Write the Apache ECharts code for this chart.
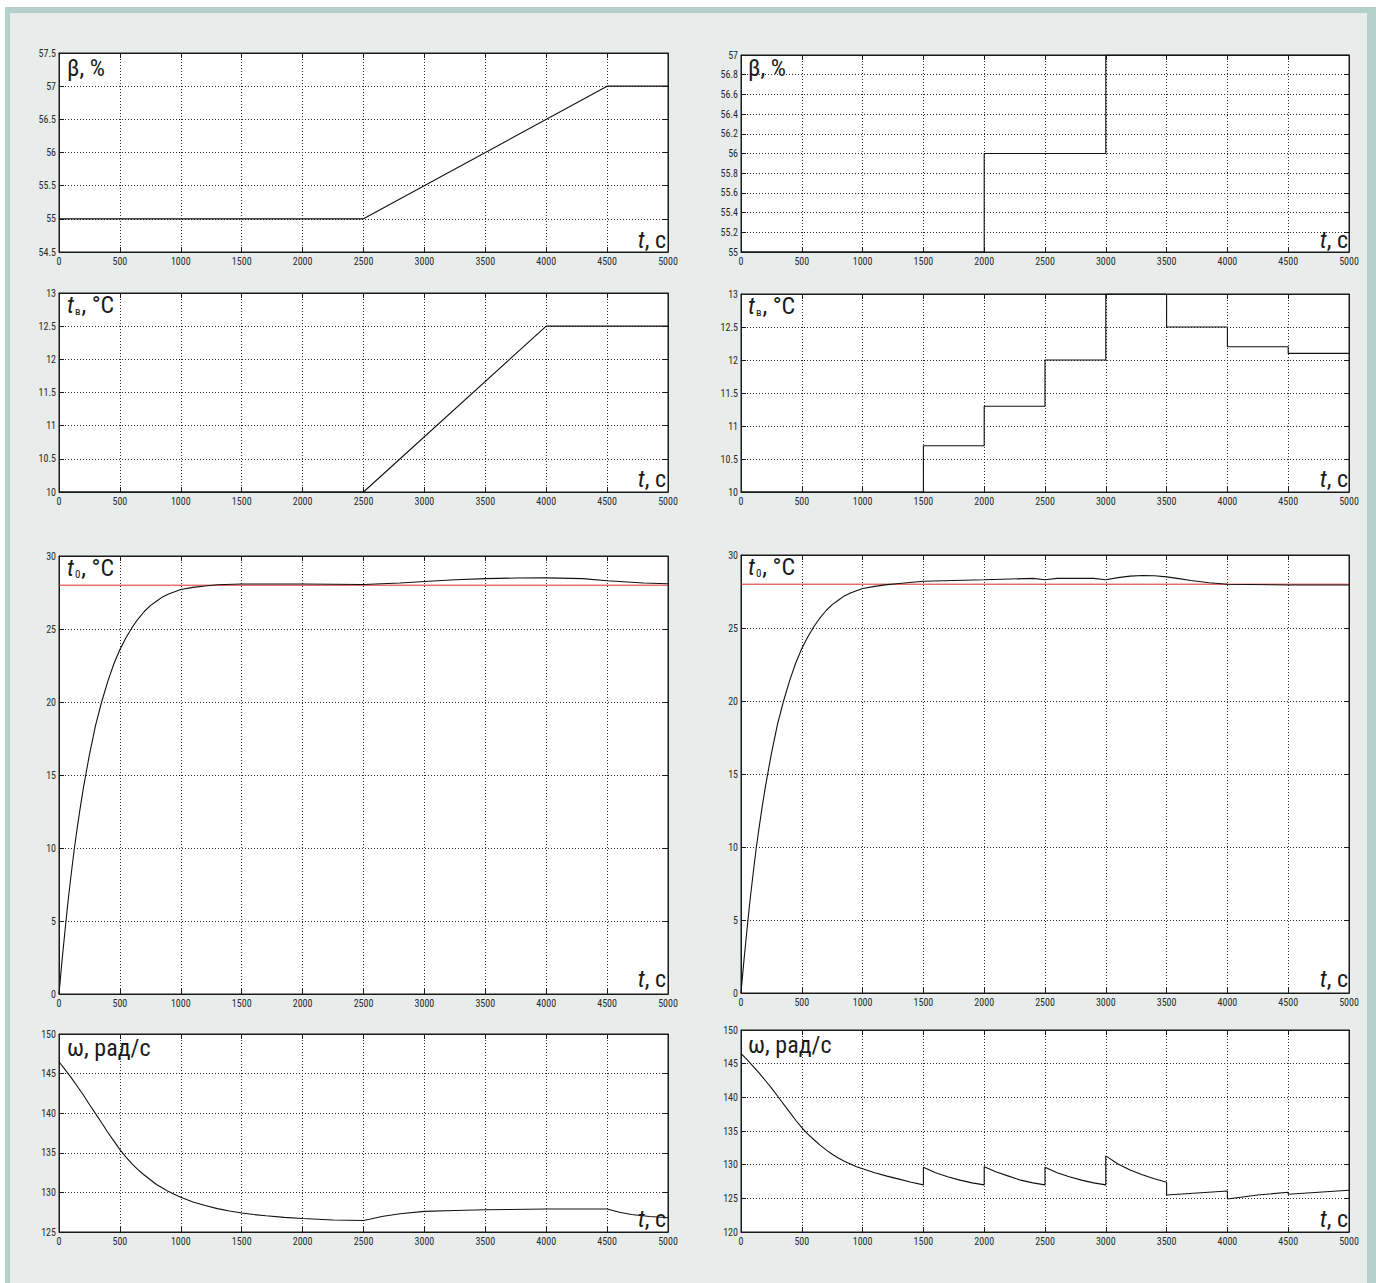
<!DOCTYPE html>
<html>
<head>
<meta charset="utf-8">
<script src="https://cdn.jsdelivr.net/npm/echarts@6/dist/echarts.min.js"></script>
<style>
html,body{margin:0;padding:0;background:#fff;width:1376px;height:1283px;overflow:hidden;}
#frame{position:absolute;left:5px;top:7px;width:1371px;height:1276px;background:#e8edeb;box-sizing:border-box;border-left:5px solid #b3d1ca;border-top:6px solid #b3d1ca;border-right:9px solid #b3d1ca;}
#chart{position:absolute;left:0;top:0;width:1376px;height:1283px;}
</style>
</head>
<body>
<div id="frame"></div>
<div id="chart"></div>
<script>
// ---- data (time in s) ----
const xTicks = {min: 0, max: 5000, step: 500};

const betaLeft  = [[0,55],[2500,55],[4500,57],[5000,57]];
const betaRight = [[0,55],[2000,55],[2000,56],[3000,56],[3000,57],[5000,57]];

const tbLeft  = [[0,10],[2500,10],[4000,12.5],[5000,12.5]];
const tbRight = [[0,10],[1500,10],[1500,10.7],[2000,10.7],[2000,11.3],[2500,11.3],[2500,12],[3000,12],
                 [3000,13],[3500,13],[3500,12.5],[4000,12.5],[4000,12.2],[4500,12.2],[4500,12.1],[5000,12.1]];

const t0Left = [[0,0],[25,2.3],[50,4.4],[75,6.4],[100,8.2],[125,9.9],[150,11.4],[175,12.8],[200,14.1],
                [250,16.4],[300,18.4],[350,20.0],[400,21.4],[450,22.6],[500,23.6],[550,24.4],[600,25.1],
                [650,25.7],[700,26.2],[750,26.6],[800,26.9],[850,27.2],[900,27.4],[950,27.55],[1000,27.7],
                [1100,27.85],[1200,27.95],[1300,28.03],[1500,28.08],[2000,28.08],[2500,28.05],[2800,28.15],
                [3000,28.25],[3250,28.37],[3500,28.45],[3750,28.49],[4000,28.5],[4300,28.45],[4500,28.3],
                [4800,28.15],[5000,28.1]];
const t0Right = [[0,0],[25,2.3],[50,4.4],[75,6.4],[100,8.2],[125,9.9],[150,11.4],[175,12.8],[200,14.1],
                 [250,16.4],[300,18.4],[350,20.0],[400,21.4],[450,22.6],[500,23.6],[550,24.4],[600,25.1],
                 [650,25.7],[700,26.2],[750,26.6],[800,26.9],[850,27.2],[900,27.4],[950,27.55],[1000,27.7],
                 [1100,27.85],[1200,27.97],[1300,28.05],[1500,28.2],[2000,28.3],[2400,28.4],[2500,28.3],
                 [2600,28.4],[2900,28.4],[3000,28.3],[3100,28.45],[3200,28.55],[3300,28.6],[3400,28.58],
                 [3500,28.5],[3600,28.38],[3700,28.25],[3850,28.1],[4000,28.0],[4500,27.95],[5000,27.95]];
const t0Setpoint = 28;

const omegaLeft = [[0,146.5],[50,145.5],[100,144.5],[150,143.4],[200,142.3],[250,141.1],[300,139.95],
                   [350,138.8],[400,137.6],[450,136.5],[500,135.4],[550,134.45],[600,133.6],[650,132.85],
                   [700,132.2],[750,131.6],[800,131.0],[850,130.55],[900,130.1],[950,129.75],[1000,129.4],
                   [1100,128.8],[1200,128.35],[1300,127.95],[1400,127.65],[1500,127.4],[1600,127.2],
                   [1700,127.05],[1850,126.85],[2000,126.7],[2250,126.52],[2500,126.45],[2550,126.6],
                   [2650,126.95],[2800,127.3],[3000,127.6],[3250,127.72],[3500,127.8],[4000,127.9],
                   [4500,127.9],[4600,127.5],[4700,127.2],[4850,126.95],[5000,126.8]];
const omegaRight = [[0,146.5],[50,145.6],[100,144.6],[150,143.6],[200,142.5],[250,141.4],[300,140.2],
                    [350,139.0],[400,137.8],[450,136.6],[500,135.5],[550,134.55],[600,133.7],[650,132.9],
                    [700,132.2],[750,131.55],[800,131.0],[850,130.5],[900,130.1],[950,129.7],[1000,129.4],
                    [1100,128.8],[1200,128.3],[1300,127.85],[1400,127.4],[1500,127.0],
                    [1500,129.6],[1600,128.8],[1700,128.2],[1800,127.7],[1900,127.3],[2000,127.0],
                    [2000,129.7],[2100,128.9],[2200,128.3],[2300,127.7],[2400,127.3],[2500,127.0],
                    [2500,129.6],[2600,128.8],[2700,128.2],[2800,127.7],[2900,127.3],[3000,127.0],
                    [3000,131.3],[3100,130.1],[3200,129.2],[3300,128.5],[3400,127.9],[3500,127.4],
                    [3500,125.5],[3750,125.8],[4000,126.1],
                    [4000,124.9],[4250,125.5],[4500,125.9],
                    [4500,125.6],[4750,125.9],[5000,126.2]];

// y-axis ranges per panel: [min, max, interval]
const yRanges = [[54.5,57.5,0.5],[55,57,0.2],[10,13,0.5],[10,13,0.5],[0,30,5],[0,30,5],[125,150,5],[120,150,5]];
const panelNames = ['beta','beta','tb','tb','t0','t0','omega','omega'];
const panelData = [betaLeft, betaRight, tbLeft, tbRight, t0Left, t0Right, omegaLeft, omegaRight];

// ---- layout ----
const grids = [
  {left:59, top:53, width:609, height:199},
  {left:741, top:55, width:608, height:197},
  {left:59, top:293, width:609, height:199},
  {left:741, top:294, width:608, height:198},
  {left:59, top:556, width:609, height:438},
  {left:741, top:555, width:608, height:438},
  {left:59, top:1034, width:609, height:198},
  {left:741, top:1030, width:608, height:202}
];
const FONT = "'Liberation Sans Narrow','Roboto Condensed','Liberation Sans',sans-serif";
const TXT = '#2a2a2a';
const plain = v => String(Math.round(v * 1000) / 1000);

const option = {backgroundColor:'transparent', animation:false, grid:[], xAxis:[], yAxis:[], series:[], title:[]};

grids.forEach((g, i) => {
  option.grid.push(Object.assign({show:true, backgroundColor:'#fff', borderColor:'#1a1a1a', borderWidth:1, containLabel:false}, g));
  const split = {show:true, lineStyle:{color:'#2a2a2a', type:[1,2], width:1}};
  const tick = {show:true, inside:true, length:5, lineStyle:{color:'#1a1a1a'}};
  option.xAxis.push({type:'value', gridIndex:i, min:xTicks.min, max:xTicks.max, interval:xTicks.step,
    axisLine:{show:true, onZero:false, lineStyle:{color:'#1a1a1a'}}, axisTick:tick,
    axisLabel:{fontSize:10, color:TXT, fontFamily:FONT, margin:4, formatter:plain}, splitLine:split});
  option.xAxis.push({type:'value', gridIndex:i, position:'top', min:xTicks.min, max:xTicks.max, interval:xTicks.step,
    axisLine:{show:true, onZero:false, lineStyle:{color:'#1a1a1a'}}, axisTick:tick, axisLabel:{show:false}, splitLine:{show:false}});
  const r = yRanges[i];
  option.yAxis.push({type:'value', gridIndex:i, min:r[0], max:r[1], interval:r[2],
    axisLine:{show:true, onZero:false, lineStyle:{color:'#1a1a1a'}}, axisTick:tick,
    axisLabel:{fontSize:10, color:TXT, fontFamily:FONT, margin:3, formatter:plain}, splitLine:split});
  option.yAxis.push({type:'value', gridIndex:i, position:'right', min:r[0], max:r[1], interval:r[2],
    axisLine:{show:true, onZero:false, lineStyle:{color:'#1a1a1a'}}, axisTick:tick, axisLabel:{show:false}, splitLine:{show:false}});

  if (panelNames[i] === 't0') {
    option.series.push({type:'line', xAxisIndex:2*i, yAxisIndex:2*i, showSymbol:false, silent:true,
      data:[[xTicks.min, t0Setpoint],[xTicks.max, t0Setpoint]], lineStyle:{color:'#e02a2a', width:1}, z:2});
  }
  option.series.push({type:'line', xAxisIndex:2*i, yAxisIndex:2*i, showSymbol:false, silent:true,
    data:panelData[i], lineStyle:{color:'#111', width:1.1}, z:3});
});

const labelRich = {
  n:{fontSize:24, fontFamily:FONT, fontWeight:'normal', color:'#1a1a1a'},
  i:{fontSize:24, fontFamily:FONT, fontWeight:'normal', fontStyle:'italic', color:'#1a1a1a'},
  s:{fontSize:11, fontFamily:FONT, fontWeight:'normal', color:'#1a1a1a', verticalAlign:'bottom', padding:[0,1,0,1]}
};
const yLabelText = {
  beta:'{n|β, %}',
  tb:'{i|t}{s|в}{n|, °C}',
  t0:'{i|t}{s|0}{n|, °C}',
  omega:'{n|ω, рад/с}'
};
const yLabelPos = [[67,56],[748,56],[67,293],[748,294],[67,556],[748,555],[67,1036],[748,1033]];
const tLabelPos = [[710,228],[28,228],[710,467],[28,467],[710,967],[28,967],[710,1207],[28,1207]];

grids.forEach((g, i) => {
  option.title.push({text:yLabelText[panelNames[i]], left:yLabelPos[i][0], top:yLabelPos[i][1], padding:0,
    textStyle:{fontWeight:'normal', rich:labelRich}});
  option.title.push({text:'{i|t}{n|, с}', right:tLabelPos[i][0], top:tLabelPos[i][1], padding:0,
    textStyle:{fontWeight:'normal', rich:labelRich}});
});

const chart = echarts.init(document.getElementById('chart'), null, {renderer:'svg', width:1376, height:1283});
chart.setOption(option);
</script>
</body>
</html>
